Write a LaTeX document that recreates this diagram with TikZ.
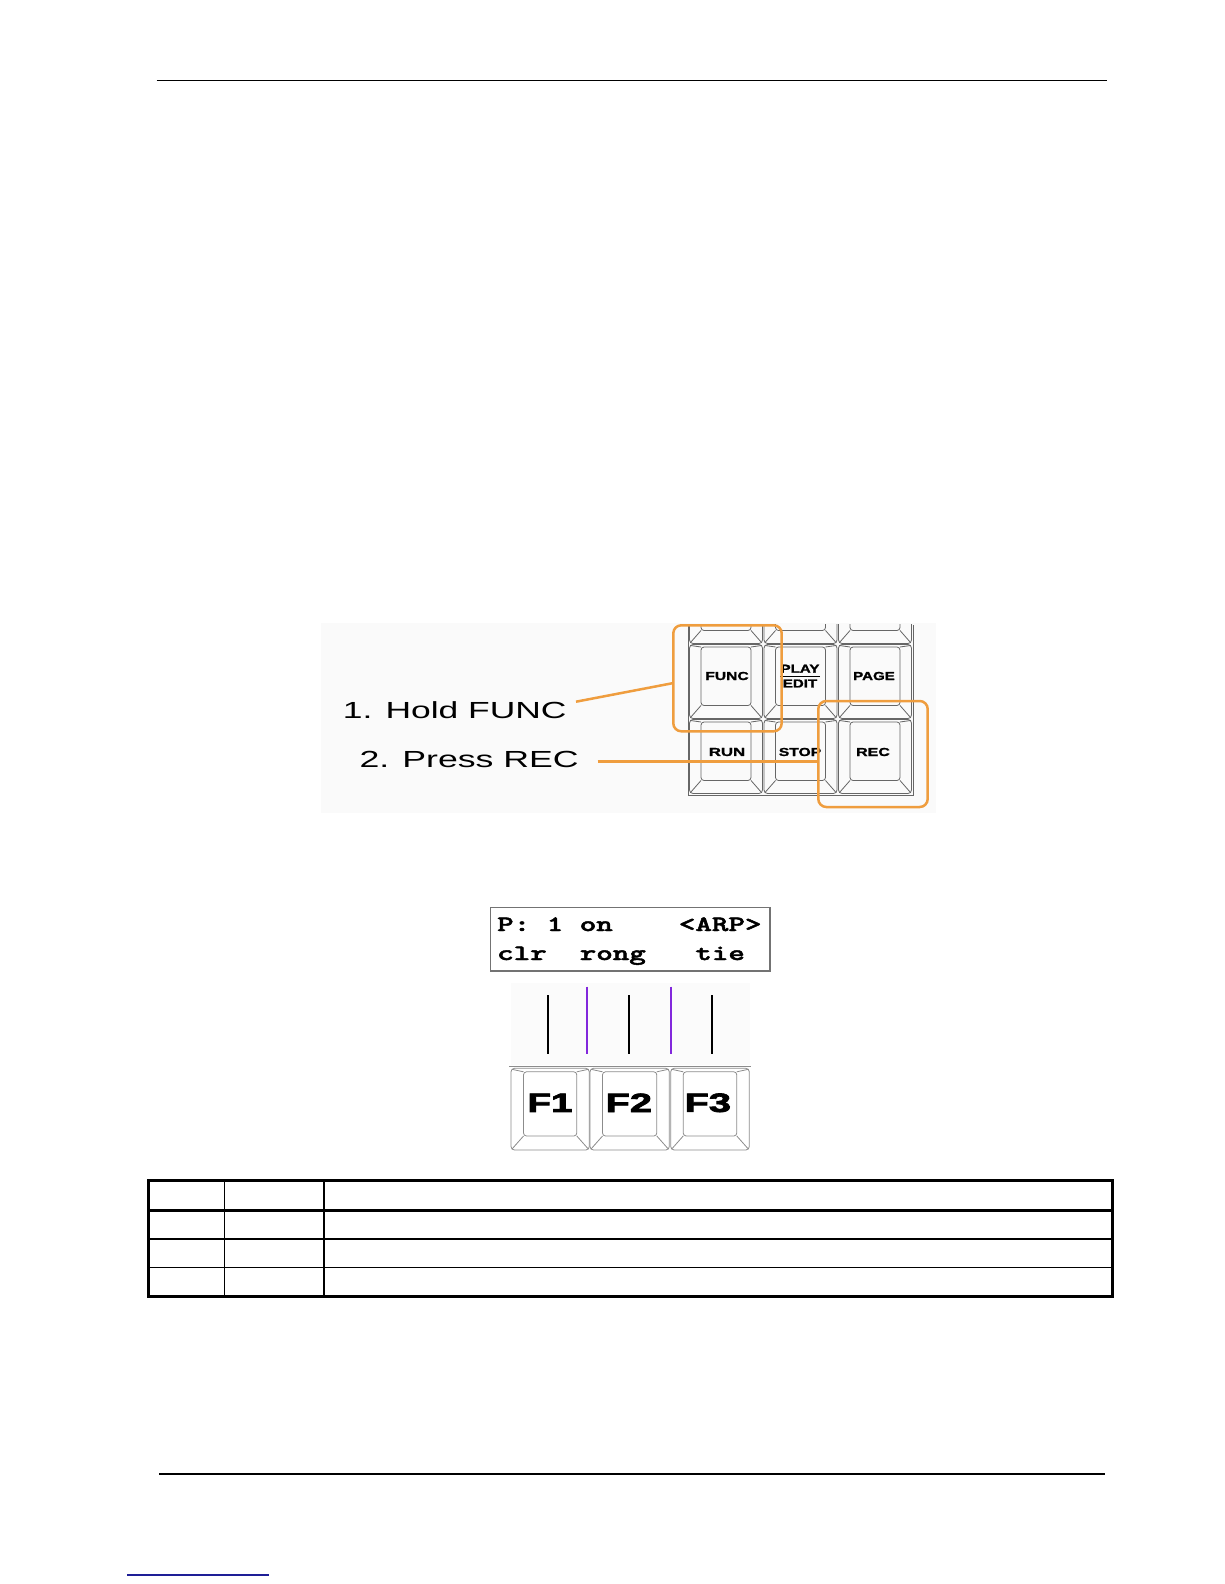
\documentclass[tikz,border=0pt]{standalone}
\usepackage{fontspec}
\usepackage{graphicx}
\setmainfont{Liberation Sans}
\newfontfamily\fkfont{Liberation Sans Bold}[FakeBold=2.5]
\newfontfamily\keyfont{Liberation Sans Bold}[FakeBold=1.2]
\newfontfamily\lcdfont{lmmonolt10-bold.otf}[FakeBold=1.8]
\usetikzlibrary{calc}
\definecolor{hlorange}{RGB}{239,157,62}
\definecolor{fpurple}{RGB}{130,40,220}
\definecolor{linkblue}{RGB}{30,30,150}
\newcommand\kcap[7]{%
  \draw[keyline,rounded corners=3.5] (#1,#2) rectangle (#3,#4);
  \draw[keyline,rounded corners=3] ({#1+#5},{#2+#6}) rectangle ({#3-#5},{#4-#7});
  \draw[keyline] ({#1+#5},{#2+#6}) -- ({#1+1},{#2+1})
     ({#3-#5},{#2+#6}) -- ({#3-1},{#2+1})
     ({#1+#5},{#4-#7}) -- ({#1+1},{#4-1})
     ({#3-#5},{#4-#7}) -- ({#3-1},{#4-1});
}
\begin{document}
\begin{tikzpicture}[x=1pt,y=-1pt,
  keyline/.style={draw=black!60,line width=0.8},
  fkeyline/.style={draw=black!45,line width=0.8},
  keylbl/.style={inner sep=0,font=\keyfont\fontsize{11.6}{12}\selectfont},
  fklbl/.style={inner sep=0,font=\fkfont\fontsize{26.5}{27}\selectfont},
  obox/.style={draw=hlorange,line width=2.5,rounded corners=8,inner sep=0},
  oline/.style={draw=hlorange,line width=2.5},
  holdtxt/.style={inner sep=0,anchor=base west,font=\fontsize{23.3}{24}\selectfont},
  lcdtxt/.style={inner sep=0,anchor=base west,font=\lcdfont\fontsize{22}{22}\selectfont},
  vline/.style={line width=2.3},
  tthick/.style={line width=2.5},
  tthin/.style={line width=1.5}]
\useasboundingbox (0,0) rectangle (1224,1584);
\fill[white] (0,0) rectangle (1224,1584);
% header / footer
\draw[line width=1.5] (156.5,80.3) -- (1107,80.3);
\draw[line width=1.5] (159,1474) -- (1105,1474);
\draw[linkblue,line width=1.5] (127,1575) -- (269,1575);
% ---------- keypad picture ----------
\fill[gray!4] (320.7,623) rectangle (936,813);
\begin{scope}
  \clip (686,624.5) rectangle (915,797);
  \foreach \c in {0,1,2}{
    \foreach \r in {0,1,2}{
      \pgfmathsetmacro\xa{689.5+74.5*\c}
      \pgfmathsetmacro\xb{\xa+73}
      \pgfmathsetmacro\ya{569.5+75*\r}
      \pgfmathsetmacro\yb{\ya+74}
      \kcap{\xa}{\ya}{\xb}{\yb}{11.5}{2.5}{13}
    }
  }
\end{scope}
\draw[keyline] (688,624.5) -- (688,795) -- (913,795) -- (913,624.5);
\node[keylbl] (kfunc) at (727,676) {\scalebox{1.35}[1]{FUNC}};
\node[keylbl] (kplay) at (800,668.7) {\scalebox{1.3}[1]{PLAY}};
\node[keylbl] (kedit) at (800,683.5) {\scalebox{1.3}[1]{EDIT}};
\draw[line width=1] (780,676) -- (820,676);
\node[keylbl] (kpage) at (874,676) {\scalebox{1.3}[1]{PAGE}};
\node[keylbl] (krun) at (727,752) {\scalebox{1.45}[1]{RUN}};
\node[keylbl] (kstop) at (800,752) {\scalebox{1.35}[1]{STOP}};
\node[keylbl] (krec) at (873,752) {\scalebox{1.38}[1]{REC}};
\node[holdtxt] (hold) at (342.7,718.3) {\scalebox{1.52}[1]{1. Hold FUNC}};
\node[holdtxt] (press) at (359.3,767.3) {\scalebox{1.53}[1]{2. Press REC}};
\node[obox,minimum width=108.4,minimum height=106] (funcbox) at (727.5,678.3) {};
\node[obox,minimum width=109.4,minimum height=106] (recbox) at (873,754) {};
\coordinate (l1s) at (576,701.7);
\coordinate (l2s) at (597.7,761.7);
\draw[oline] (l1s) -- ($(funcbox.west)+(0,5)$);
\draw[oline] (l2s) -- ($(recbox.west)+(0,7.7)$);
% ---------- LCD and function keys ----------
\node[draw=black!55,line width=1.2,minimum width=279.3,minimum height=63.3,inner sep=0] (lcd) at (630.35,939.35) {};
\node[lcdtxt] (lcdone) at (497,931) {\scalebox{1.43}[1]{P:~1~on~~~~<ARP>}};
\node[lcdtxt] (lcdtwo) at (497,960) {\scalebox{1.43}[1]{clr~~rong~~~tie}};
\fill[gray!3] (511,983) rectangle (750,1065);
\coordinate (va1) at (548.3,995);   \coordinate (vb1) at (548.3,1054.3);
\coordinate (va2) at (587.3,986.7); \coordinate (vb2) at (587.3,1054.3);
\coordinate (va3) at (629,995);     \coordinate (vb3) at (629,1054.3);
\coordinate (va4) at (670.7,986.7); \coordinate (vb4) at (670.7,1054.3);
\coordinate (va5) at (711.7,995);   \coordinate (vb5) at (711.7,1054.3);
\draw[vline] (va1) -- (vb1);
\draw[vline,fpurple] (va2) -- (vb2);
\draw[vline] (va3) -- (vb3);
\draw[vline,fpurple] (va4) -- (vb4);
\draw[vline] (va5) -- (vb5);
\draw[fkeyline] (509,1066.7) -- (751,1066.7);
\begin{scope}[keyline/.style={draw=black!45,line width=0.8}]
  \kcap{511}{1068.3}{589.3}{1150}{12.5}{3.5}{14}
  \kcap{590}{1068.3}{669.3}{1150}{12.5}{3.5}{14}
  \kcap{670.7}{1068.3}{749.3}{1150}{12.5}{3.5}{14}
\end{scope}
\node[fklbl] (fone) at (550,1102.8) {\scalebox{1.45}[1]{F1}};
\node[fklbl] (ftwo) at (628.8,1102.8) {\scalebox{1.5}[1]{F2}};
\node[fklbl] (fthree) at (707.8,1102.8) {\scalebox{1.5}[1]{F3}};
% ---------- table ----------
\draw[tthin] (224.5,1180.5) -- (224.5,1296.5);
\draw[tthin] (324,1180.5) -- (324,1296.5);
\draw[tthick] (148.5,1210.5) -- (1112.5,1210.5);
\draw[tthick] (148.5,1239) -- (1112.5,1239);
\draw[tthin] (148.5,1267.5) -- (1112.5,1267.5);
\draw[tthick] (148.5,1180.5) rectangle (1112.5,1296.5);
\end{tikzpicture}
\end{document}
